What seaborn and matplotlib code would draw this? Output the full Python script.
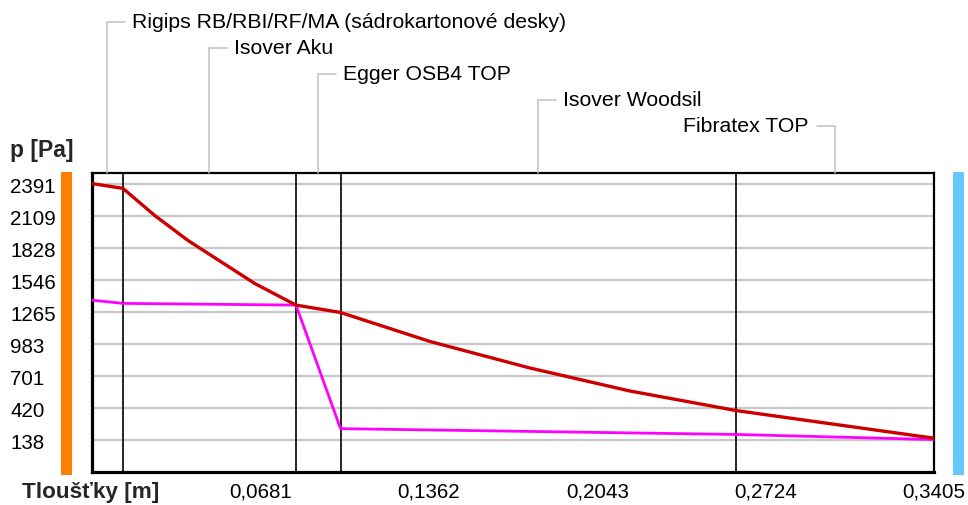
import matplotlib
matplotlib.use('Agg')
import matplotlib.pyplot as plt
import seaborn as sns
import pandas as pd
from matplotlib.patches import Rectangle
from matplotlib.lines import Line2D

# ---------------- data ----------------
layer_names = ["Rigips RB/RBI/RF/MA (sádrokartonové desky)", "Isover Aku",
               "Egger OSB4 TOP", "Isover Woodsil", "Fibratex TOP"]
layer_edges = [0.0, 0.0125, 0.0825, 0.1005, 0.2605, 0.3405]

sat_x = [0.0, 0.0125, 0.0254, 0.0388, 0.0523, 0.0658, 0.0825, 0.1005,
         0.1367, 0.1771, 0.2175, 0.2605, 0.3405]
sat_p = [2395, 2353, 2114, 1895, 1706, 1517, 1327, 1262,
         1007, 774, 572, 400, 157]

part_x = [0.0, 0.0125, 0.0825, 0.1005, 0.2605, 0.3405]
part_p = [1370, 1342, 1327, 241, 190, 145]

y_ticks = [138, 420, 701, 983, 1265, 1546, 1828, 2109, 2391]
x_major = [0.0681, 0.1362, 0.2043, 0.2724, 0.3405]
x_minor = [0.03405, 0.10215, 0.17025, 0.23835, 0.30645]
x_labels = ["0,0681", "0,1362", "0,2043", "0,2724", "0,3405"]

# ---------------- figure ----------------
sns.set_theme(style='white')
plt.rcParams['font.family'] = ['Liberation Sans', 'DejaVu Sans']

W, H = 968, 506
fig = plt.figure(figsize=(W / 100, H / 100), dpi=100)
fig.patch.set_facecolor('white')

def fx(px):
    return px / W

def fy(py):
    return 1 - py / H

ax = fig.add_axes([fx(92), fy(473), fx(934) - fx(92), fy(174) - fy(473)])
ax.set_facecolor('white')

df_sat = pd.DataFrame({'x': sat_x, 'p': sat_p})
df_part = pd.DataFrame({'x': part_x, 'p': part_p})
sns.lineplot(data=df_part, x='x', y='p', ax=ax, color='#FF00FF', lw=2.0,
             zorder=4, sort=False)
sns.lineplot(data=df_sat, x='x', y='p', ax=ax, color='#CC0000', lw=2.4,
             zorder=5, sort=False)

ax.set_xlim(0, 0.3405)
ax.set_ylim(-140, 2488)
ax.set_xlabel('')
ax.set_ylabel('')

# layer boundaries
for e in layer_edges[1:-1]:
    ax.axvline(e, color='black', lw=1.2, zorder=3)

# grid
ax.set_yticks(y_ticks, [str(v) for v in y_ticks])
ax.grid(axis='y', color='#c8c8c8', lw=1.6, zorder=1)
ax.grid(axis='x', visible=False)
ax.tick_params(axis='y', length=0, pad=59, labelsize=14.8, labelcolor='black')
for lbl in ax.get_yticklabels():
    lbl.set_horizontalalignment('left')

ax.set_xticks(x_major, x_labels)
ax.set_xticks(x_minor, minor=True)
ax.tick_params(axis='x', which='both', direction='in', length=9, width=1,
               color='#b0b0b0', labelsize=14.8, pad=7, labelcolor='black')

for s in ['left', 'bottom']:
    ax.spines[s].set_color('black')
    ax.spines[s].set_linewidth(2.3)
for s in ['top', 'right']:
    ax.spines[s].set_color('black')
    ax.spines[s].set_linewidth(1.6)

# axis titles
fig.text(fx(10), fy(150), 'p [Pa]', fontsize=16.5, fontweight='bold',
         ha='left', va='center')
fig.text(fx(22), fy(493), 'Tloušťky [m]', fontsize=16.2, fontweight='bold',
         ha='left', va='center')

# side colour bars
fig.add_artist(Rectangle((fx(61), fy(476)), fx(72) - fx(61), fy(173) - fy(476),
                         transform=fig.transFigure, color='#FF8000', lw=0))
fig.add_artist(Rectangle((fx(953), fy(476)), fx(964) - fx(953), fy(173) - fy(476),
                         transform=fig.transFigure, color='#66C8FF', lw=0))

# layer labels with leader lines
lc = '#c0c0c0'
for i, name in enumerate(layer_names):
    mid = (layer_edges[i] + layer_edges[i + 1]) / 2
    mx = ax.transData.transform((mid, 0))[0]
    yrow = 23 + 26 * i
    fig.add_artist(Line2D([fx(mx), fx(mx)], [fy(174), fy(yrow)],
                          transform=fig.transFigure, color=lc, lw=1.1))
    if i < len(layer_names) - 1:
        fig.add_artist(Line2D([fx(mx), fx(mx + 18)], [fy(yrow), fy(yrow)],
                              transform=fig.transFigure, color=lc, lw=1.1))
        fig.text(fx(mx + 25), fy(yrow), name, fontsize=15.3, ha='left',
                 va='center', color='black')
    else:
        fig.add_artist(Line2D([fx(mx), fx(mx - 18)], [fy(yrow), fy(yrow)],
                              transform=fig.transFigure, color=lc, lw=1.1))
        fig.text(fx(mx - 27), fy(yrow), name, fontsize=15.3, ha='right',
                 va='center', color='black')

fig.savefig('out.png', dpi=100)
